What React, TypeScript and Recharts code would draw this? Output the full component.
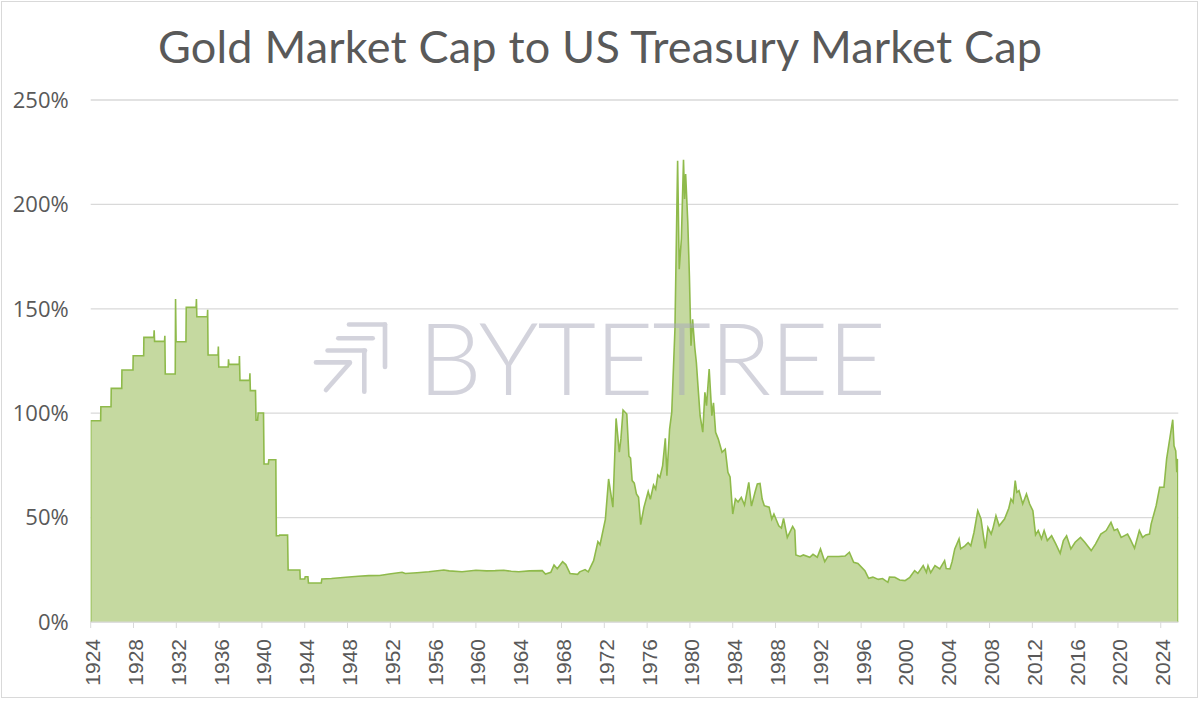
import { AreaChart, Area, XAxis, YAxis, CartesianGrid } from 'recharts';

// gold market cap / US treasury market cap
const years = [
  1924.0, 1924.0, 1924.93, 1924.95, 1925.9, 1925.92, 1926.9, 1926.92, 1927.95, 1927.97,
  1928.95, 1928.97, 1929.9, 1929.93, 1929.97, 1930.9, 1930.93, 1930.97, 1931.9, 1931.93,
  1931.98, 1932.9, 1932.93, 1933.85, 1933.88, 1933.92, 1934.9, 1934.93, 1934.97, 1935.9,
  1935.93, 1935.97, 1936.85, 1936.88, 1936.92, 1937.88, 1937.9, 1937.95, 1938.85, 1938.88,
  1938.92, 1939.4, 1939.45, 1939.6, 1939.65, 1940.15, 1940.2, 1940.6, 1940.65, 1941.3,
  1941.35, 1941.6, 1941.65, 1942.4, 1942.45, 1943.55, 1943.58, 1944.0, 1944.05, 1944.3,
  1944.35, 1945.55, 1945.6, 1946.5, 1947.85, 1949.0, 1950.0, 1951.0, 1951.9, 1953.1,
  1953.4, 1954.5, 1955.6, 1957.0, 1957.5, 1958.7, 1960.0, 1961.0, 1961.8, 1962.6,
  1963.3, 1964.0, 1965.0, 1966.2, 1966.5, 1967.0, 1967.3, 1967.6, 1968.1, 1968.4,
  1968.8, 1969.5, 1969.7, 1970.2, 1970.5, 1971.0, 1971.4, 1971.6, 1972.1, 1972.4,
  1972.8, 1973.1, 1973.4, 1973.55, 1973.75, 1974.1, 1974.3, 1974.45, 1974.6, 1974.8,
  1975.0, 1975.2, 1975.4, 1975.7, 1976.1, 1976.3, 1976.6, 1976.8, 1977.0, 1977.2,
  1977.45, 1977.7, 1977.85, 1978.1, 1978.3, 1978.6, 1978.85, 1979.0, 1979.2, 1979.4,
  1979.5, 1979.6, 1979.8, 1979.95, 1980.1, 1980.25, 1980.45, 1980.6, 1980.75, 1980.95,
  1981.2, 1981.4, 1981.55, 1981.8, 1982.05, 1982.2, 1982.4, 1982.65, 1983.0, 1983.3,
  1983.55, 1983.75, 1984.0, 1984.25, 1984.5, 1984.8, 1985.1, 1985.5, 1985.75, 1986.1,
  1986.3, 1986.55, 1986.75, 1986.95, 1987.4, 1987.65, 1987.85, 1988.3, 1988.55, 1988.75,
  1989.1, 1989.6, 1989.8, 1989.9, 1990.3, 1990.6, 1991.2, 1991.5, 1991.9, 1992.2,
  1992.6, 1992.9, 1993.9, 1994.5, 1994.9, 1995.3, 1995.7, 1996.35, 1996.7, 1997.1,
  1997.6, 1998.0, 1998.5, 1998.65, 1999.15, 1999.6, 2000.1, 2000.55, 2001.0, 2001.3,
  2001.8, 2002.1, 2002.25, 2002.5, 2002.9, 2003.35, 2003.8, 2003.95, 2004.3, 2004.5,
  2004.75, 2005.15, 2005.3, 2005.7, 2006.0, 2006.25, 2006.55, 2006.9, 2007.2, 2007.6,
  2007.85, 2008.15, 2008.3, 2008.6, 2008.9, 2009.4, 2009.8, 2010.0, 2010.2, 2010.4,
  2010.55, 2010.75, 2011.1, 2011.45, 2011.75, 2012.05, 2012.3, 2012.55, 2012.85, 2013.1,
  2013.4, 2013.8, 2014.2, 2014.6, 2014.9, 2015.2, 2015.6, 2016.0, 2016.5, 2016.9,
  2017.5, 2017.9, 2018.4, 2018.9, 2019.35, 2019.65, 2019.95, 2020.3, 2020.9, 2021.15,
  2021.55, 2022.0, 2022.3, 2022.6, 2022.95, 2023.1, 2023.57, 2023.9, 2024.3, 2024.55,
  2025.12, 2025.24, 2025.4, 2025.5, 2025.59, 2025.62,
];

const ratio = [
  0, 96.4, 96.4, 103.1, 103.1, 111.9, 111.9, 120.7, 120.7, 127.5,
  127.5, 136.3, 136.3, 139.7, 134.4, 134.4, 137.1, 118.8, 118.8, 154.7,
  134.2, 134.2, 150.7, 150.7, 154.7, 146.2, 146.2, 149.5, 127.9, 127.9,
  131.9, 122.1, 122.1, 125.8, 123.4, 123.4, 127.4, 115.7, 115.7, 119.1,
  110.8, 110.8, 96.7, 96.7, 100.1, 100.1, 75.7, 75.7, 77.7, 77.7,
  41.3, 41.3, 41.6, 41.6, 24.9, 24.9, 20.6, 20.6, 21.7, 21.7,
  18.7, 18.7, 20.6, 20.8, 21.4, 21.9, 22.2, 22.3, 23.0, 23.8,
  23.2, 23.6, 24.1, 24.9, 24.5, 24.1, 24.8, 24.5, 24.6, 24.8,
  24.3, 24.1, 24.5, 24.6, 23.0, 23.8, 27.3, 25.5, 28.9, 27.5,
  23.2, 22.8, 24.0, 25.1, 24.0, 29.4, 38.5, 37.0, 49.3, 68.5,
  55.0, 97.5, 81.3, 87.7, 101.5, 99.6, 79.4, 78.5, 67.7, 66.5,
  61.3, 59.7, 46.6, 54.9, 62.5, 58.8, 65.6, 63.6, 70.4, 69.3,
  74.9, 88.0, 70.1, 92.4, 100.4, 140.3, 220.9, 169.0, 183.4, 221.4,
  202.6, 214.6, 191.4, 165.9, 132.3, 145.0, 131.6, 124.4, 113.2, 98.8,
  90.9, 110.0, 103.6, 121.2, 98.8, 105.0, 90.9, 87.6, 81.3, 82.8,
  71.7, 69.5, 51.7, 58.9, 57.5, 59.7, 56.0, 66.9, 55.5, 62.5,
  66.1, 66.4, 58.9, 55.7, 55.0, 49.3, 51.7, 46.1, 45.0, 49.6,
  40.5, 45.8, 44.0, 32.1, 31.4, 32.1, 31.0, 32.4, 31.0, 35.0,
  28.9, 31.4, 31.4, 31.6, 33.4, 28.6, 28.0, 24.6, 20.9, 21.5,
  20.4, 20.8, 19.0, 21.5, 21.4, 20.1, 19.8, 21.4, 24.6, 23.3,
  27.0, 23.8, 27.0, 23.6, 27.0, 25.4, 29.4, 25.6, 25.4, 28.9,
  35.0, 39.8, 35.0, 36.5, 38.0, 36.5, 43.0, 53.3, 49.3, 35.3,
  45.3, 42.1, 44.5, 50.9, 46.1, 49.3, 54.5, 58.9, 57.3, 67.7,
  62.1, 62.9, 56.5, 61.3, 56.5, 53.3, 41.7, 43.8, 39.8, 43.8,
  39.0, 41.3, 37.3, 32.9, 39.0, 41.3, 35.0, 38.2, 40.5, 38.2,
  34.2, 37.3, 42.1, 43.8, 47.7, 43.8, 44.5, 40.5, 42.1, 39.7,
  35.3, 43.8, 40.5, 41.7, 42.1, 46.9, 55.7, 64.5, 64.5, 78.1,
  96.9, 84.4, 82.0, 71.7, 78.1, 0,
];

const yearTicks = [
  1924, 1928, 1932, 1936, 1940, 1944, 1948, 1952, 1956, 1960, 1964, 1968, 1972,
  1976, 1980, 1984, 1988, 1992, 1996, 2000, 2004, 2008, 2012, 2016, 2020, 2024,
];
const pctTicks = [0, 50, 100, 150, 200, 250];

const data = years.map((year, i) => ({ year, ratio: ratio[i] }));

const GREY_TEXT = '#595959';
const MARK = '#a9a9bb';

function YearTick({ x, y, payload }: any) {
  return (
    <text
      transform={`translate(${x},${y}) rotate(-90)`}
      y={2}
      textAnchor="end"
      dominantBaseline="central"
      fill={GREY_TEXT}
      fontSize={21}
      fontFamily="Liberation Sans, Arial, sans-serif"
    >
      {payload.value}
    </text>
  );
}

function Watermark() {
  const line = { stroke: MARK, strokeWidth: 4.6, strokeLinecap: 'round' as const };
  return (
    <g opacity={0.5}>
      <line x1={349} y1={324.5} x2={385} y2={324.5} {...line} />
      <line x1={385} y1={324.5} x2={385} y2={367} {...line} />
      <line x1={338.3} y1={338.3} x2={372.7} y2={338.3} {...line} />
      <line x1={327.6} y1={350.5} x2={365} y2={350.5} {...line} />
      <line x1={364.3} y1={350.5} x2={364.3} y2={391.8} {...line} />
      <line x1={316} y1={362.4} x2={349.8} y2={362.4} {...line} />
      <line x1={349.8} y1={363} x2={326} y2={390} {...line} />
      <text
        x={418}
        y={395}
        fontFamily="Lato, sans-serif"
        fontWeight={300}
        fontSize={101}
        textLength={468}
        lengthAdjust="spacing"
        fill={MARK}
      >
        BYTETREE
      </text>
    </g>
  );
}

export default function App() {
  return (
    <div style={{ position: 'relative', width: 1200, height: 701, background: '#fff' }}>
      <style>{'body{margin:0}'}</style>
      <div
        style={{
          position: 'absolute', left: 1, top: 1, width: 1197, height: 697,
          border: '1.5px solid #d9d9d9', boxSizing: 'border-box',
        }}
      />
      <AreaChart
        width={1200}
        height={701}
        data={data}
        margin={{ top: 100, right: 21.7, bottom: 0, left: 10.7 }}
        style={{ position: 'absolute', left: 0, top: 0 }}
      >
        <CartesianGrid vertical={false} stroke="#d9d9d9" strokeWidth={1.3} />
        <XAxis
          dataKey="year"
          type="number"
          domain={[1924, 2025.64]}
          ticks={yearTicks}
          interval={0}
          allowDataOverflow
          height={79}
          stroke="#d9d9d9"
          tickSize={6}
          tickMargin={11}
          tick={<YearTick />}
        />
        <YAxis
          type="number"
          domain={[0, 250]}
          ticks={pctTicks}
          interval={0}
          width={80}
          axisLine={false}
          tickLine={false}
          tickSize={0}
          tickMargin={22}
          tickFormatter={(v) => `${v}%`}
          tick={{ fill: GREY_TEXT, fontSize: 22, fontFamily: 'Open Sans, sans-serif' }}
        />
        <Area
          type="linear"
          dataKey="ratio"
          stroke="#8fba4b"
          strokeWidth={1.6}
          fill="#c5d9a0"
          fillOpacity={1}
          baseValue={0}
          isAnimationActive={false}
          dot={false}
          activeDot={false}
        />
      </AreaChart>
      <svg
        width={1200}
        height={701}
        style={{ position: 'absolute', left: 0, top: 0, pointerEvents: 'none' }}
      >
        <text
          x={600}
          y={63}
          textAnchor="middle"
          fill={GREY_TEXT}
          fontSize={45}
          fontFamily="Lato, sans-serif"
          textLength={884}
          lengthAdjust="spacing"
        >
          Gold Market Cap to US Treasury Market Cap
        </text>
        <Watermark />
      </svg>
    </div>
  );
}
